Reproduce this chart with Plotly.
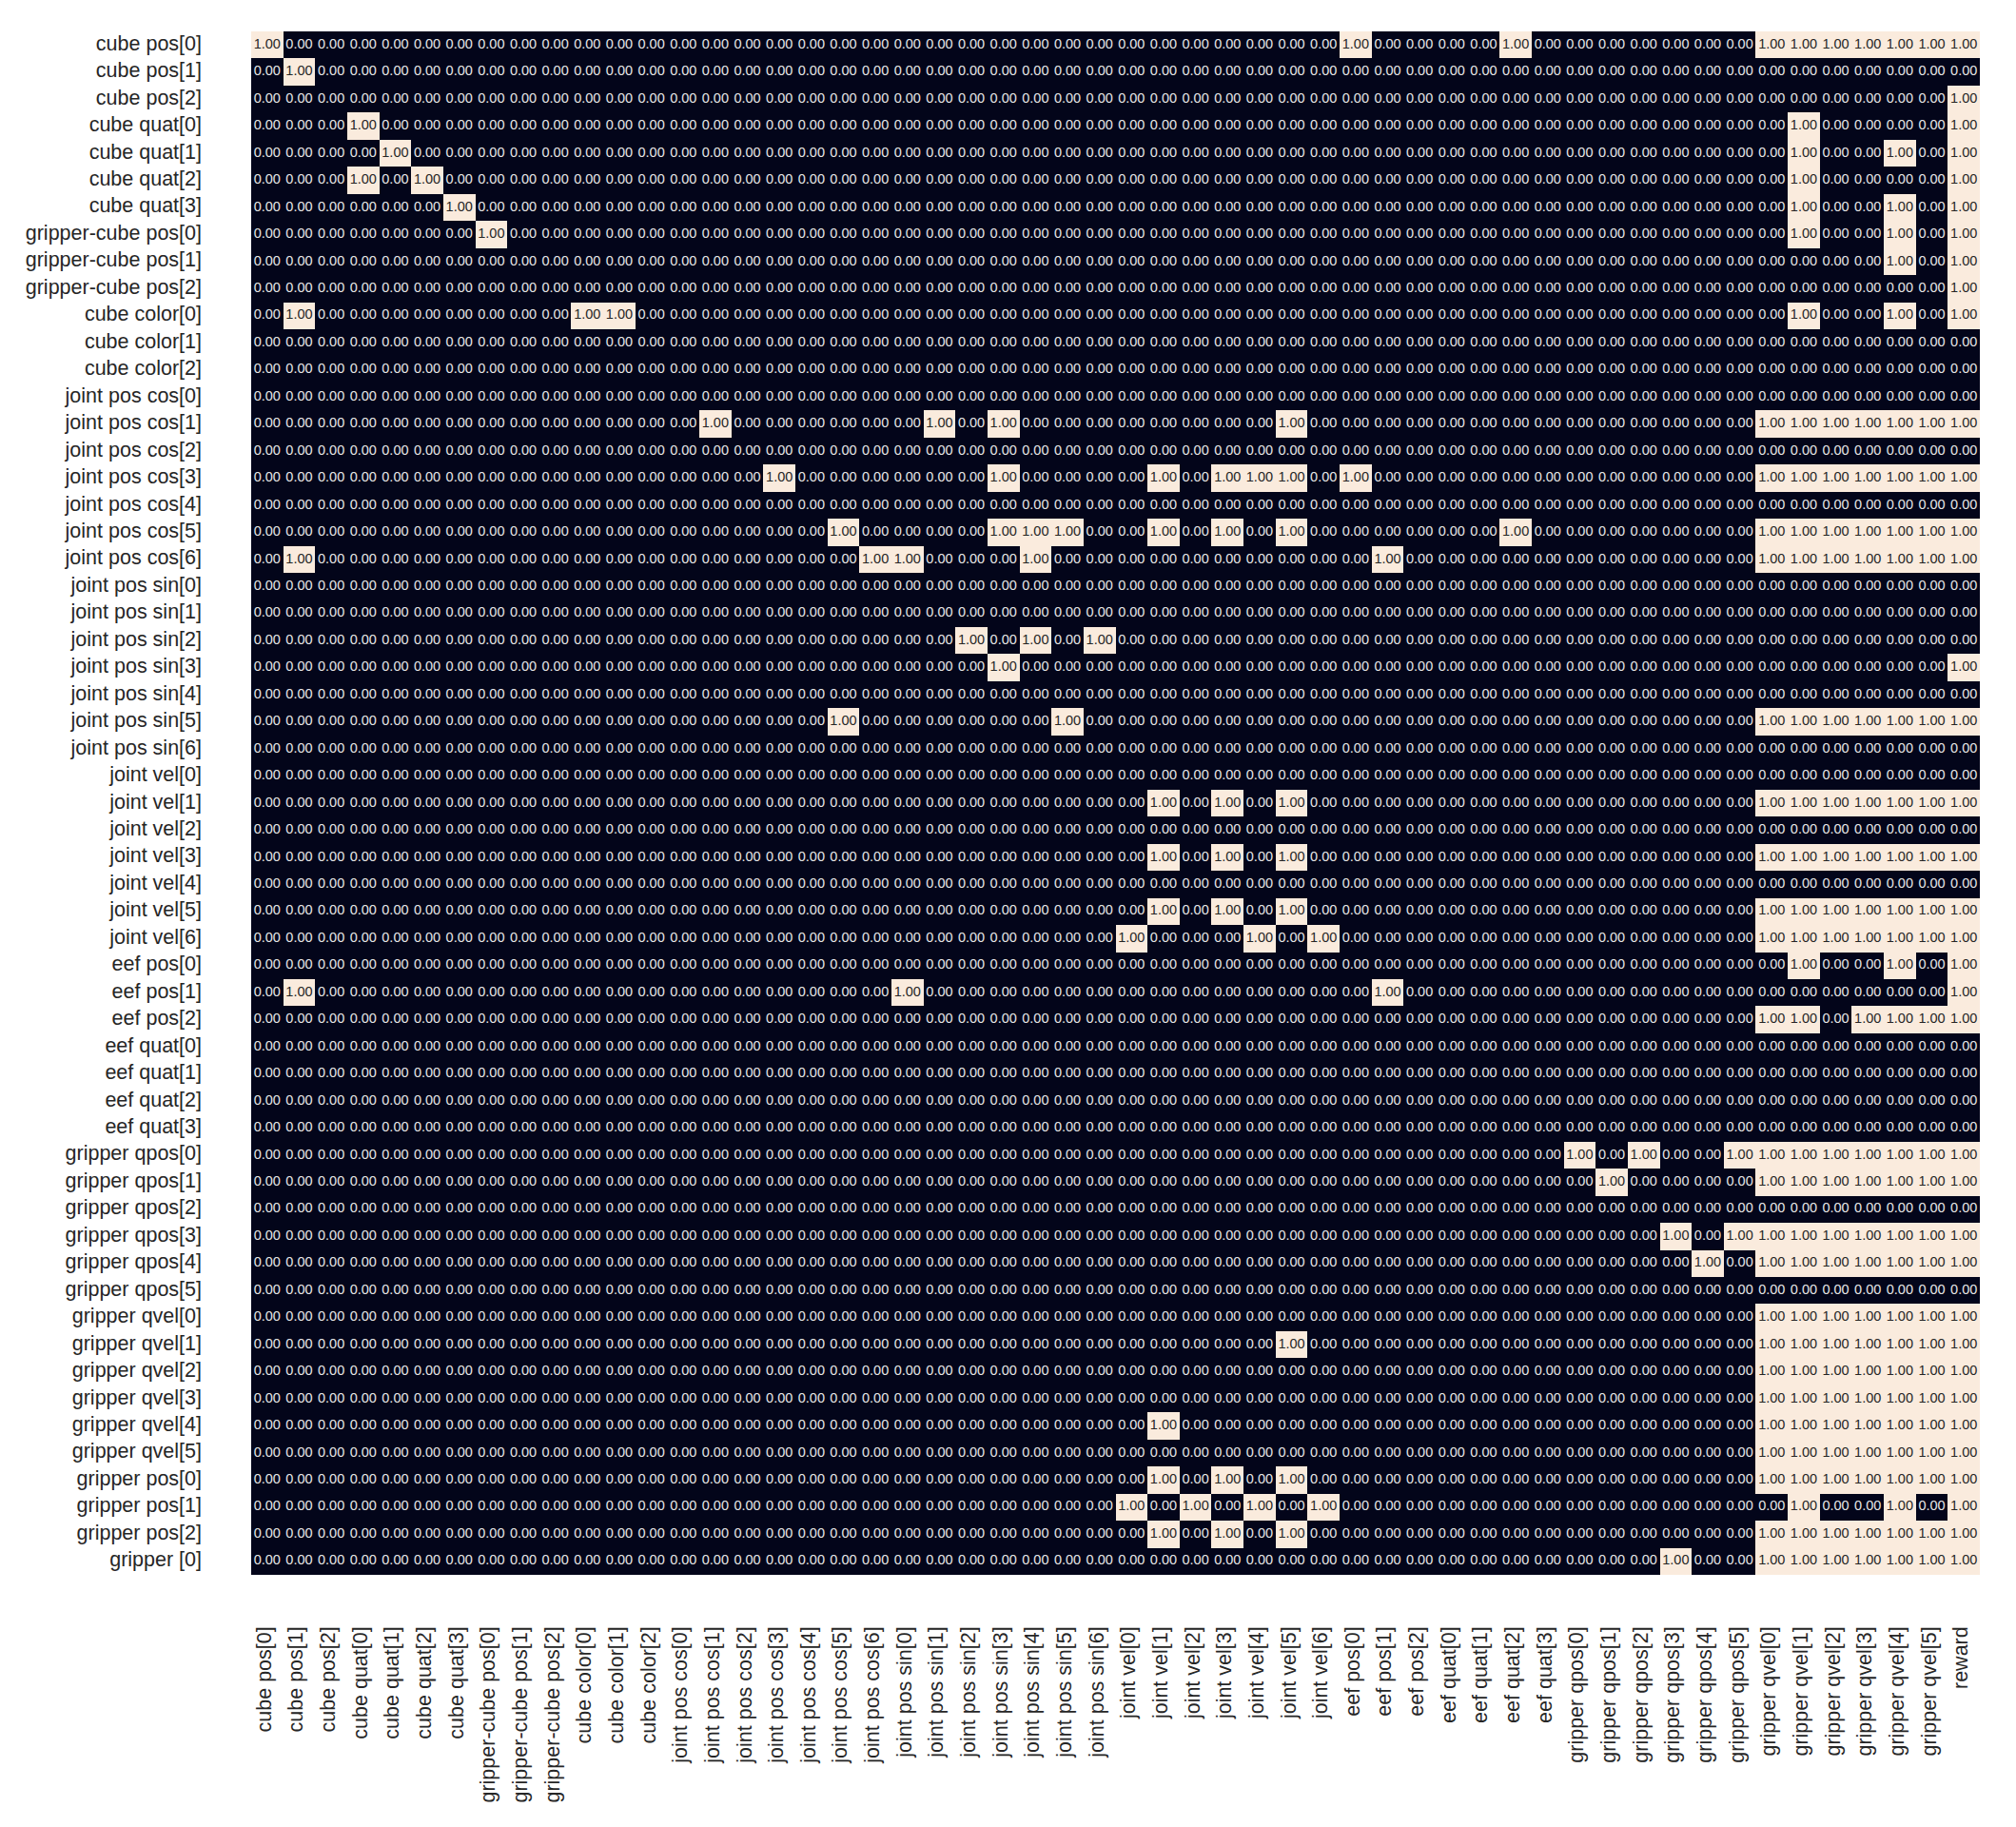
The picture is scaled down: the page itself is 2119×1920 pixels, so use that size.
import plotly.graph_objs as go

# labels, same order on both axes apart from the last few
X_LABELS = [
    "cube pos[0]", "cube pos[1]", "cube pos[2]",
    "cube quat[0]", "cube quat[1]", "cube quat[2]", "cube quat[3]",
    "gripper-cube pos[0]", "gripper-cube pos[1]", "gripper-cube pos[2]",
    "cube color[0]", "cube color[1]", "cube color[2]",
    "joint pos cos[0]", "joint pos cos[1]", "joint pos cos[2]", "joint pos cos[3]",
    "joint pos cos[4]", "joint pos cos[5]", "joint pos cos[6]",
    "joint pos sin[0]", "joint pos sin[1]", "joint pos sin[2]", "joint pos sin[3]",
    "joint pos sin[4]", "joint pos sin[5]", "joint pos sin[6]",
    "joint vel[0]", "joint vel[1]", "joint vel[2]", "joint vel[3]",
    "joint vel[4]", "joint vel[5]", "joint vel[6]",
    "eef pos[0]", "eef pos[1]", "eef pos[2]",
    "eef quat[0]", "eef quat[1]", "eef quat[2]", "eef quat[3]",
    "gripper qpos[0]", "gripper qpos[1]", "gripper qpos[2]",
    "gripper qpos[3]", "gripper qpos[4]", "gripper qpos[5]",
    "gripper qvel[0]", "gripper qvel[1]", "gripper qvel[2]",
    "gripper qvel[3]", "gripper qvel[4]", "gripper qvel[5]",
    "reward",
]
Y_LABELS = X_LABELS[:-1] + ["gripper pos[0]", "gripper pos[1]", "gripper pos[2]", "gripper [0]"]

# column indices holding 1.00 in each row, everything else is 0.00
ONES_BY_ROW = [
    [0, 34, 39, 47, 48, 49, 50, 51, 52, 53],
    [1],
    [53],
    [3, 48, 53],
    [4, 48, 51, 53],
    [3, 5, 48, 53],
    [6, 48, 51, 53],
    [7, 48, 51, 53],
    [51, 53],
    [53],
    [1, 10, 11, 48, 51, 53],
    [],
    [],
    [],
    [14, 21, 23, 32, 47, 48, 49, 50, 51, 52, 53],
    [],
    [16, 23, 28, 30, 31, 32, 34, 47, 48, 49, 50, 51, 52, 53],
    [],
    [18, 23, 24, 25, 28, 30, 32, 39, 47, 48, 49, 50, 51, 52, 53],
    [1, 19, 20, 24, 35, 47, 48, 49, 50, 51, 52, 53],
    [],
    [],
    [22, 24, 26],
    [23, 53],
    [],
    [18, 25, 47, 48, 49, 50, 51, 52, 53],
    [],
    [],
    [28, 30, 32, 47, 48, 49, 50, 51, 52, 53],
    [],
    [28, 30, 32, 47, 48, 49, 50, 51, 52, 53],
    [],
    [28, 30, 32, 47, 48, 49, 50, 51, 52, 53],
    [27, 31, 33, 47, 48, 49, 50, 51, 52, 53],
    [48, 51, 53],
    [1, 20, 35, 53],
    [47, 48, 50, 51, 52, 53],
    [],
    [],
    [],
    [],
    [41, 43, 46, 47, 48, 49, 50, 51, 52, 53],
    [42, 47, 48, 49, 50, 51, 52, 53],
    [],
    [44, 46, 47, 48, 49, 50, 51, 52, 53],
    [45, 47, 48, 49, 50, 51, 52, 53],
    [],
    [47, 48, 49, 50, 51, 52, 53],
    [32, 47, 48, 49, 50, 51, 52, 53],
    [47, 48, 49, 50, 51, 52, 53],
    [47, 48, 49, 50, 51, 52, 53],
    [28, 47, 48, 49, 50, 51, 52, 53],
    [47, 48, 49, 50, 51, 52, 53],
    [28, 30, 32, 47, 48, 49, 50, 51, 52, 53],
    [27, 29, 31, 33, 48, 51, 53],
    [28, 30, 32, 47, 48, 49, 50, 51, 52, 53],
    [44, 47, 48, 49, 50, 51, 52, 53],
]

FONT = "Liberation Sans"
LOW_COLOR = "#03051A"
HIGH_COLOR = "#FAEBDD"

z = [[1.0 if c in ones else 0.0 for c in range(len(X_LABELS))] for ones in ONES_BY_ROW]

heat = go.Heatmap(
    z=z, x=X_LABELS, y=Y_LABELS,
    colorscale=[[0, LOW_COLOR], [1, HIGH_COLOR]],
    zmin=0, zmax=1, showscale=False,
)


# cell annotations, one trace per text colour
def cell_text(value, color):
    xs, ys = [], []
    for r, row in enumerate(z):
        for c, v in enumerate(row):
            if v == value:
                xs.append(X_LABELS[c])
                ys.append(Y_LABELS[r])
    return go.Scatter(
        x=xs, y=ys, mode="text", text=[f"{value:.2f}"] * len(xs),
        textposition="middle center",
        textfont=dict(family=FONT, size=14.5, color=color),
        hoverinfo="skip", showlegend=False,
    )


fig = go.Figure(data=[heat, cell_text(0.0, "#E6E6E6"), cell_text(1.0, "#262626")])

# the page body has an 8px margin, so the figure is 16px smaller than the window
fig.update_layout(
    width=2103, height=1904,
    margin=dict(l=256, r=30, t=25, b=257),
    paper_bgcolor="white", plot_bgcolor="white",
    font=dict(family=FONT, color="#262626"),
)
fig.update_xaxes(
    type="category", categoryorder="array", categoryarray=X_LABELS,
    range=[-0.5, len(X_LABELS) - 0.5],
    tickmode="array", tickvals=X_LABELS, ticktext=X_LABELS,
    tickangle=-90, tickfont=dict(family=FONT, size=21.5, color="#262626"),
    ticks="", showgrid=False, zeroline=False, showline=False,
    ticklabelstandoff=49, ticklabelshift=-3,
)
fig.update_yaxes(
    type="category", categoryorder="array", categoryarray=Y_LABELS,
    range=[len(Y_LABELS) - 0.5, -0.5],
    tickmode="array", tickvals=Y_LABELS, ticktext=Y_LABELS,
    tickfont=dict(family=FONT, size=21.5, color="#262626"),
    ticks="", showgrid=False, zeroline=False, showline=False,
    ticklabelstandoff=51, ticklabelshift=2,
)

fig.write_html("out.html")
